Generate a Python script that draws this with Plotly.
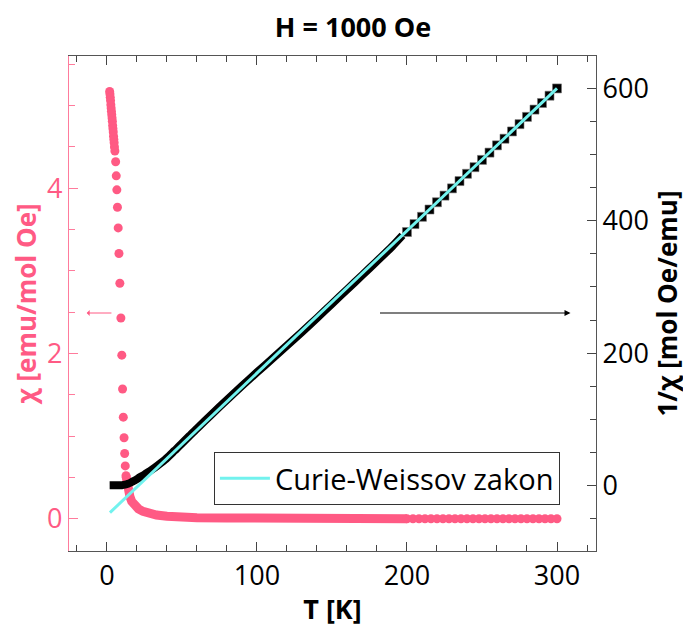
import plotly.graph_objects as go

PINK = "#FF5A84"
PINK_AXIS = "#FF7B9C"
CYAN = "#72F2EE"
GREY = "#555555"
FONT = "Open Sans, Segoe UI, DejaVu Sans, sans-serif"

# chi(T) - separate points at low T
chi_T_dots = [1.8, 2.0, 2.2, 2.4, 2.6, 2.8, 3.0, 3.2, 3.4, 3.6, 3.8, 4.0, 4.2, 4.4, 4.6,
              4.8, 5.0, 5.3, 5.8, 6.2, 6.6, 7.0, 7.5, 8.0, 8.6, 9.3, 9.9, 10.4, 10.9,
              11.4, 11.8, 12.2, 12.7]
chi_dots = [5.17, 5.14, 5.10, 5.06, 5.01, 4.97, 4.93, 4.89, 4.85, 4.81, 4.76, 4.72, 4.68,
            4.63, 4.59, 4.55, 4.50, 4.45, 4.32, 4.15, 3.98, 3.77, 3.52, 3.21, 2.85, 2.43,
            1.98, 1.57, 1.23, 0.98, 0.79, 0.64, 0.52]

# chi(T) - dense measurement (continuous band up to 200 K)
chi_T_band = [12.7, 13.3, 14.2, 15.3, 16.5, 18.7, 21, 24, 28, 33, 40, 46, 60, 80, 100,
              138, 140, 170, 200]
chi_band = [0.52, 0.42, 0.35, 0.27, 0.21, 0.16, 0.12, 0.09, 0.065, 0.045, 0.03, 0.02,
            0.013, 0.01, 0.01, 0.008, 0.0, 0.0, 0.0]

# chi(T) - sparse points above 200 K
chi_T_hi = [200, 204, 208, 212, 216, 220, 224, 228, 232, 236, 240, 244, 248, 252, 256,
            260, 264, 268, 272, 276, 280, 284, 288, 292, 296, 300]
chi_hi = [0.0, 0.0, 0.0, 0.0, 0.0, 0.0, 0.0, 0.0, 0.0, 0.0, 0.0, 0.0, 0.0, 0.0, 0.0,
          0.0, 0.0, 0.0, 0.0, 0.0, 0.0, 0.0, 0.0, 0.0, 0.0, 0.0]

# 1/chi(T) - dense band
inv_T_band = [1.8, 6, 10, 12, 14, 16, 18, 20, 22, 25, 28, 32, 36, 40, 45, 50, 55, 60, 70,
              80, 90, 100, 110, 120, 130, 140, 150, 160, 170, 180, 190, 197]
inv_band = [0.2, 0.25, 0.5, 1.2, 2.5, 4.5, 7, 9.5, 12.5, 16.5, 21, 27, 34, 41.5, 52.5,
            63.5, 75, 86, 108, 129.5, 150.5, 171, 191, 211.5, 232, 253, 274.5, 296,
            317.5, 339, 361, 378]

# 1/chi(T) - sparse squares above 200 K
inv_T_hi = [200, 205, 210, 215, 220, 225, 230, 235, 240, 245, 250, 255, 260, 265, 270,
            275, 280, 285, 290, 295, 300]
inv_hi = [383, 395, 406, 417, 428, 438, 449, 460, 471, 481, 492, 503, 514, 524, 535, 546,
          557, 568, 578, 589, 600]

# Curie-Weiss fit
fit_T = [2, 300]
fit_inv = [-41, 600]

fig = go.Figure()
fig.add_trace(go.Scatter(
    x=chi_T_band, y=chi_band, mode="lines", yaxis="y",
    line=dict(color=PINK, width=9), showlegend=False,
))
fig.add_trace(go.Scatter(
    x=chi_T_dots + chi_T_hi, y=chi_dots + chi_hi, mode="markers", yaxis="y",
    marker=dict(color=PINK, size=9), showlegend=False,
))
fig.add_trace(go.Scatter(
    x=inv_T_band, y=inv_band, mode="lines", yaxis="y2",
    line=dict(color="black", width=8, shape="spline", smoothing=0.6), showlegend=False,
))
fig.add_trace(go.Scatter(
    x=inv_T_hi, y=inv_hi, mode="markers", yaxis="y2",
    marker=dict(color="black", size=9, symbol="square",
                line=dict(color="#777", width=0.6)),
    showlegend=False,
))
fig.add_trace(go.Scatter(
    x=fit_T, y=fit_inv, mode="lines", yaxis="y2", name="Curie-Weissov zakon",
    line=dict(color=CYAN, width=3),
))

# arrows pointing to the matching axis
fig.add_annotation(x=-13.5, y=2.49, ax=4, ay=2.49, xref="x", yref="y",
                   axref="x", ayref="y", text="", showarrow=True,
                   arrowhead=1, arrowsize=1, arrowwidth=1, arrowcolor=PINK)
fig.add_annotation(x=309, y=2.49, ax=181, ay=2.49, xref="x", yref="y",
                   axref="x", ayref="y", text="", showarrow=True,
                   arrowhead=2, arrowsize=1, arrowwidth=1.2, arrowcolor="black")

fig.update_layout(
    width=691, height=635,
    margin=dict(l=61, r=103, t=48, b=92),
    paper_bgcolor="white", plot_bgcolor="white",
    font=dict(family=FONT, size=27, color="black"),
    title=dict(text="<b>H = 1000 Oe</b>", font=dict(size=27, color="black"),
               x=0.4993, xanchor="center", y=0.9685, yanchor="middle"),
    xaxis=dict(
        range=[-25.3, 326], tick0=0, dtick=100, ticks="inside", ticklen=9,
        tickcolor="#444", showline=True, linecolor=GREY, linewidth=1.3,
        mirror="ticks", showgrid=False, zeroline=False,
        minor=dict(dtick=20, ticks="inside", ticklen=6, tickcolor="#444"),
        tickfont=dict(size=27), automargin=False,
        title=dict(text="<b>T [K]</b>", font=dict(size=27), standoff=8),
    ),
    yaxis=dict(
        range=[-0.39, 5.6], tick0=0, dtick=2, ticks="inside", ticklen=9,
        tickcolor=PINK_AXIS, showline=True, linecolor=PINK_AXIS, linewidth=1.3,
        showgrid=False, zeroline=False,
        minor=dict(dtick=0.5, ticks="inside", ticklen=6, tickcolor=PINK_AXIS),
        tickfont=dict(size=27, color=PINK), automargin=False,
        title=dict(text="<b>χ [emu/mol Oe]</b>", font=dict(size=26, color=PINK),
                   standoff=8),
    ),
    yaxis2=dict(
        range=[-99, 649], tick0=0, dtick=200, ticks="inside", ticklen=9,
        tickcolor="#444", showline=True, linecolor=GREY, linewidth=1.3,
        overlaying="y", side="right", showgrid=False, zeroline=False,
        minor=dict(dtick=50, ticks="inside", ticklen=6, tickcolor="#444"),
        tickfont=dict(size=27), automargin=False,
        title=dict(text="<b>1/χ [mol Oe/emu]</b>", font=dict(size=26), standoff=8),
    ),
    legend=dict(x=0.275, y=0.2, xanchor="left", yanchor="top",
                bgcolor="white", bordercolor="#333", borderwidth=1,
                font=dict(size=29), itemwidth=50),
)

fig.write_html("out.html")
